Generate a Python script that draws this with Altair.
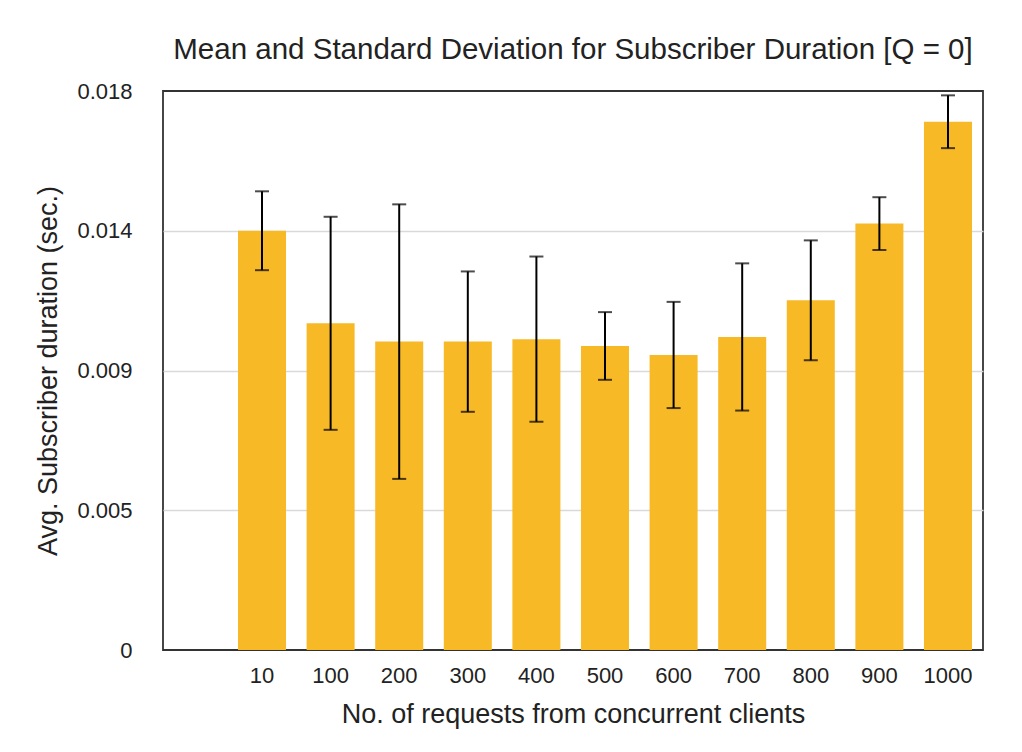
import altair as alt
import pandas as pd

categories = ["10", "100", "200", "300", "400", "500", "600", "700", "800", "900", "1000"]
means = [0.01350, 0.01052, 0.00993, 0.00993, 0.01001, 0.00979, 0.00950, 0.01008, 0.01126, 0.01373, 0.01701]
sds = [0.00127, 0.00343, 0.00442, 0.00226, 0.00266, 0.00109, 0.00171, 0.00237, 0.00193, 0.00085, 0.00085]

y_tick_values = [0, 0.0045, 0.009, 0.0135, 0.018]
y_tick_labels = ["0", "0.005", "0.009", "0.014", "0.018"]

df = pd.DataFrame({
    "clients": categories,
    "mean": means,
    "sd": sds,
})
df["low"] = df["mean"] - df["sd"]
df["high"] = df["mean"] + df["sd"]

FONT = "Liberation Sans"
TXT = "#222222"

label_expr = "[" + ",".join("'%s'" % s for s in y_tick_labels) + "][indexof([" + \
    ",".join(repr(v) for v in y_tick_values) + "], datum.value)]"

x_enc = alt.X(
    "clients:N",
    sort=categories,
    scale=alt.Scale(paddingInner=0.3, paddingOuter=0.627, align=0.872),
    axis=alt.Axis(
        title="No. of requests from concurrent clients",
        labelAngle=0,
        labelFontSize=22,
        labelFont=FONT,
        labelColor=TXT,
        labelPadding=15,
        ticks=False,
        domain=False,
        grid=False,
        titleFont=FONT,
        titleFontSize=27,
        titleFontWeight="normal",
        titleColor=TXT,
        titlePadding=15,
    ),
)

y_scale = alt.Scale(domain=[0, 0.018], nice=False, zero=True)

bars = alt.Chart(df).mark_bar(color="#f8b927").encode(
    x=x_enc,
    y=alt.Y(
        "mean:Q",
        scale=y_scale,
        axis=alt.Axis(
            title="Avg. Subscriber duration (sec.)",
            values=y_tick_values,
            labelExpr=label_expr,
            labelFontSize=22,
            labelFont=FONT,
            labelColor=TXT,
            labelPadding=31,
            ticks=False,
            domain=False,
            grid=True,
            gridColor="#d9d9d9",
            gridWidth=1.5,
            gridOpacity={"condition": {"test": "datum.value == 0 || datum.value == 0.018", "value": 0}, "value": 1},
            titleFont=FONT,
            titleFontSize=27,
            titleFontWeight="normal",
            titleColor=TXT,
            titlePadding=14,
        ),
    ),
)

rules = alt.Chart(df).mark_rule(color="black", strokeWidth=2).encode(
    x=alt.X("clients:N", sort=categories),
    y=alt.Y("low:Q", scale=y_scale),
    y2="high:Q",
)

cap_low = alt.Chart(df).mark_tick(color="black", thickness=2, size=14).encode(
    x=alt.X("clients:N", sort=categories),
    y=alt.Y("low:Q", scale=y_scale),
)
cap_high = alt.Chart(df).mark_tick(color="black", thickness=2, size=14).encode(
    x=alt.X("clients:N", sort=categories),
    y=alt.Y("high:Q", scale=y_scale),
)

chart = alt.layer(bars, rules, cap_low, cap_high).properties(
    width=820,
    height=559,
    title=alt.TitleParams(
        text="Mean and Standard Deviation for Subscriber Duration [Q = 0]",
        font=FONT,
        fontSize=29.5,
        fontWeight="normal",
        color=TXT,
        anchor="middle",
        frame="group",
        baseline="alphabetic",
        offset=33,
        dy=41,
    ),
    autosize=alt.AutoSizeParams(type="none"),
    padding={"left": 155, "top": 83, "right": 31, "bottom": 86},
).configure(
    background="white",
    view=alt.ViewConfig(stroke="#333333", strokeWidth=1.8),
)

chart.save("out.html", embed_options={"renderer": "svg", "actions": False})
